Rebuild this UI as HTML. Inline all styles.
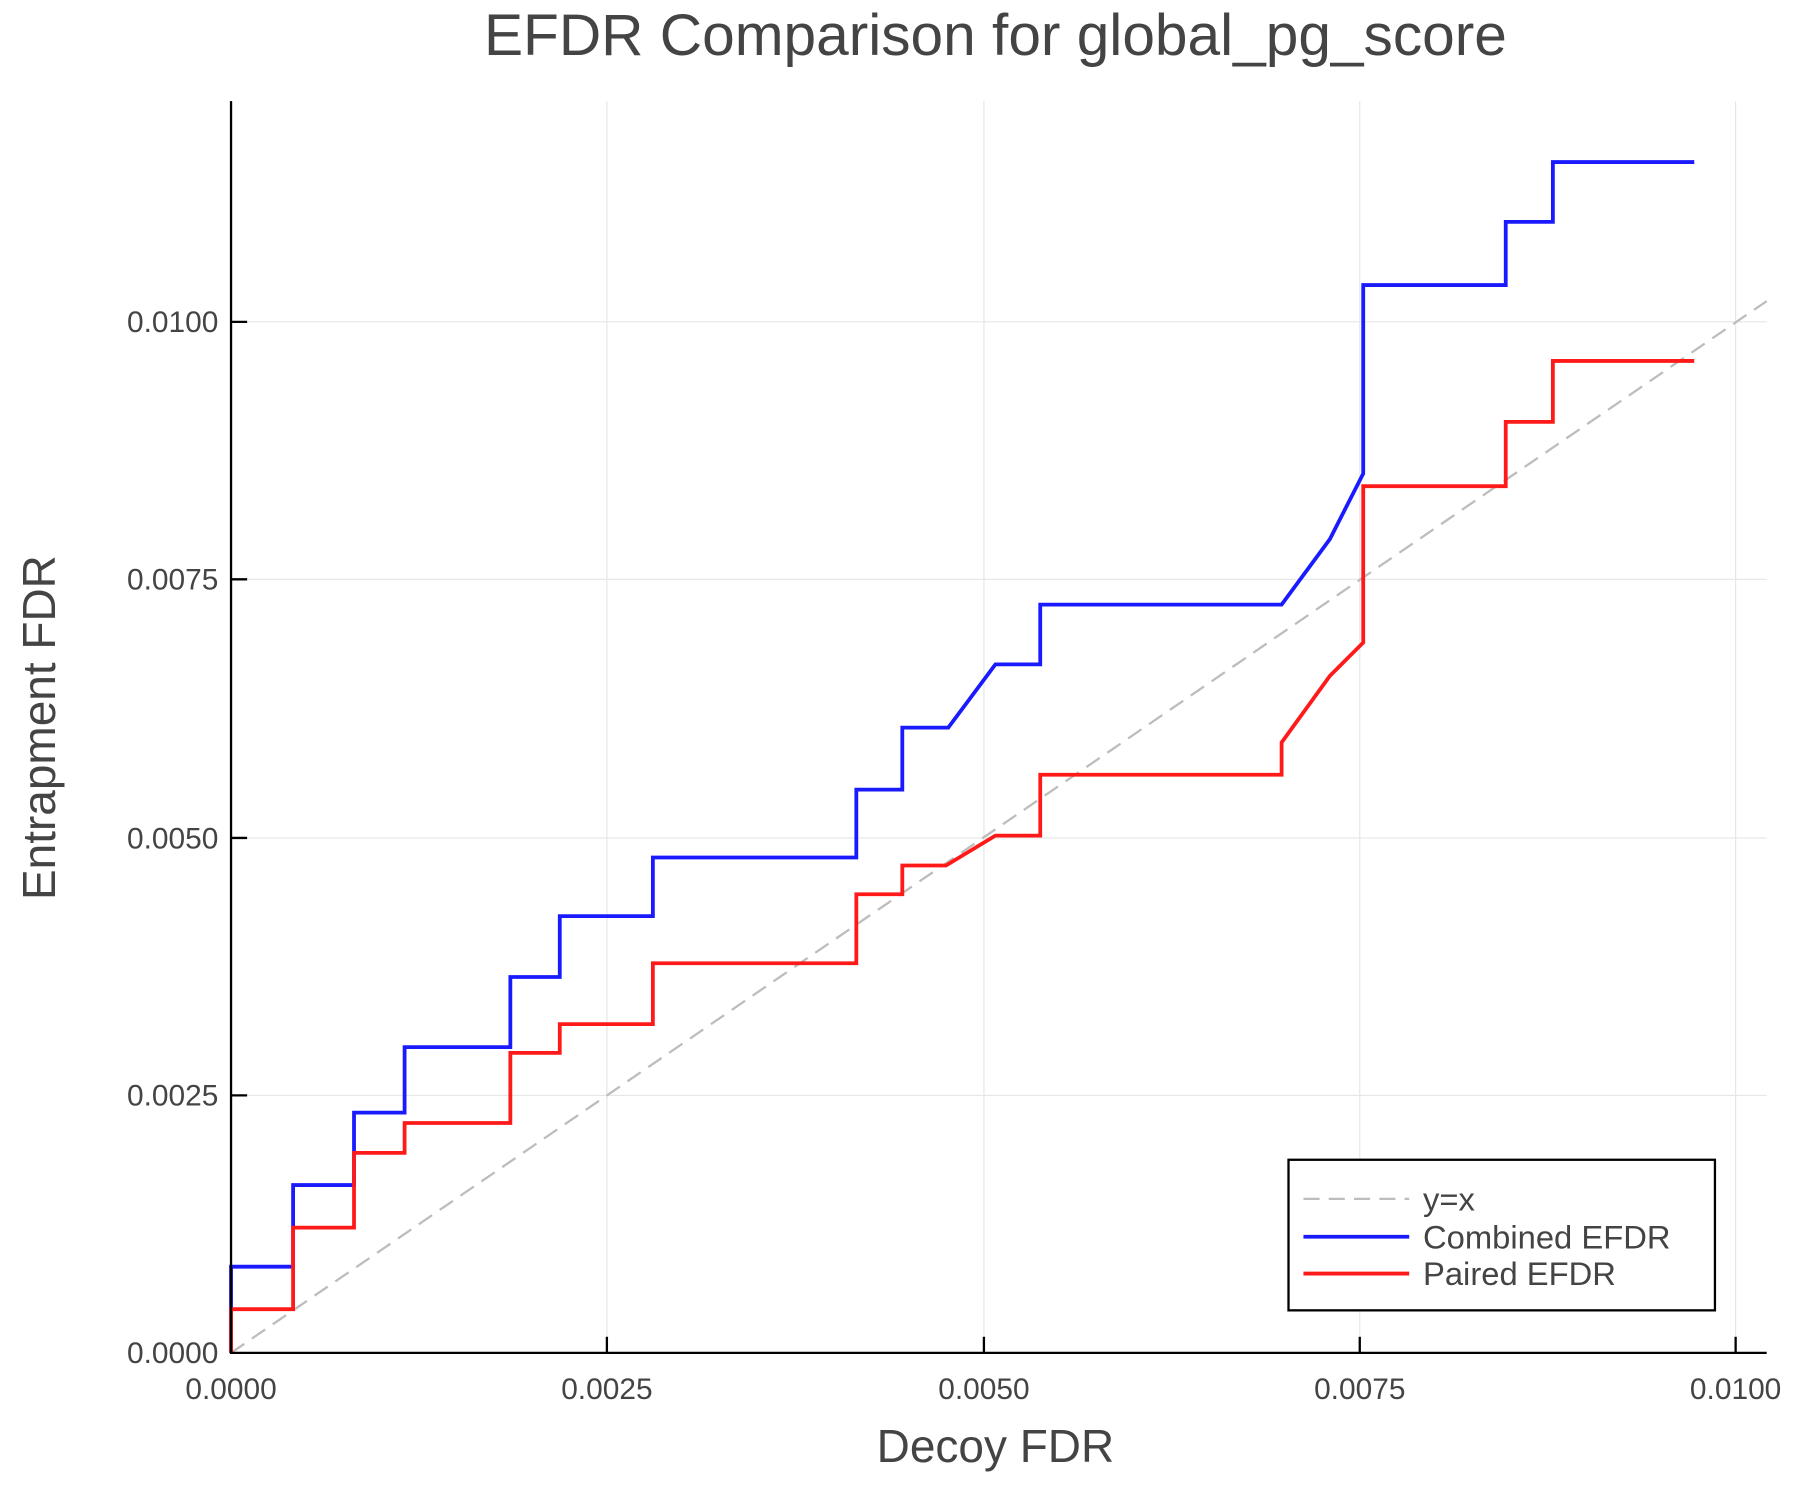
<!DOCTYPE html>
<html><head><style>html,body{margin:0;padding:0;background:#fff}svg{display:block}</style></head>
<body>
<svg width="1800" height="1500" viewBox="0 0 1566 1305" xmlns="http://www.w3.org/2000/svg" font-family="Liberation Sans, sans-serif">
<rect width="1566" height="1305" fill="#fff"/>
<g stroke="#e6e6e6" stroke-width="1">
<line x1="528" y1="88" x2="528" y2="1177"/><line x1="856" y1="88" x2="856" y2="1177"/><line x1="1183" y1="88" x2="1183" y2="1177"/><line x1="1510" y1="88" x2="1510" y2="1177"/>
<line x1="201" y1="953" x2="1537" y2="953"/><line x1="201" y1="729" x2="1537" y2="729"/><line x1="201" y1="504" x2="1537" y2="504"/><line x1="201" y1="280" x2="1537" y2="280"/>
</g>
<line x1="201" y1="1177" x2="1537" y2="262" stroke="#bdbdbd" stroke-width="2" stroke-dasharray="14,8"/>
<polyline fill="none" stroke="#1a1aff" stroke-width="3.3" points="201,1177 201,1102 255,1102 255,1031 308,1031 308,968 352,968 352,911 444,911 444,850 487,850 487,797 568,797 568,746 745,746 745,687 785,687 785,633 825,633 866,578 905,578 905,526 1115,526 1157,469 1186,412 1186,248 1310,248 1310,193 1351,193 1351,141 1474,141"/>
<polyline fill="none" stroke="#ff1a1a" stroke-width="3.3" points="201,1177 201,1139 255,1139 255,1068 308,1068 308,1003 352,1003 352,977 444,977 444,916 487,916 487,891 568,891 568,838 745,838 745,778 785,778 785,753 823,753 866,727 905,727 905,674 1115,674 1115,646 1157,588 1186,559 1186,423 1310,423 1310,367 1351,367 1351,314 1474,314"/>
<g stroke="#000" stroke-width="2">
<line x1="201" y1="88" x2="201" y2="1177"/><line x1="200" y1="1177" x2="1537" y2="1177"/>
<line x1="528" y1="1177" x2="528" y2="1163"/><line x1="856" y1="1177" x2="856" y2="1163"/><line x1="1183" y1="1177" x2="1183" y2="1163"/><line x1="1510" y1="1177" x2="1510" y2="1163"/>
<line x1="201" y1="953" x2="215" y2="953"/><line x1="201" y1="729" x2="215" y2="729"/><line x1="201" y1="504" x2="215" y2="504"/><line x1="201" y1="280" x2="215" y2="280"/>
</g>
<g fill="#444" font-size="26">
<g text-anchor="middle">
<text x="201" y="1217">0.0000</text><text x="528" y="1217">0.0025</text><text x="856" y="1217">0.0050</text><text x="1183" y="1217">0.0075</text><text x="1510" y="1217">0.0100</text>
</g>
<g text-anchor="end">
<text x="190" y="1186">0.0000</text><text x="190" y="962">0.0025</text><text x="190" y="738">0.0050</text><text x="190" y="513">0.0075</text><text x="190" y="289">0.0100</text>
</g>
</g>
<text x="866" y="48" text-anchor="middle" font-size="51" fill="#444">EFDR Comparison for global_pg_score</text>
<text x="866" y="1272" text-anchor="middle" font-size="40" fill="#444">Decoy FDR</text>
<text transform="translate(48,633) rotate(-90)" text-anchor="middle" font-size="40" fill="#444">Entrapment FDR</text>
<rect x="1121" y="1009" width="371" height="131" fill="#fff" stroke="#000" stroke-width="2"/>
<line x1="1134" y1="1043" x2="1226" y2="1043" stroke="#bdbdbd" stroke-width="2" stroke-dasharray="14,8"/>
<line x1="1134" y1="1076" x2="1226" y2="1076" stroke="#1a1aff" stroke-width="3.3"/>
<line x1="1134" y1="1108" x2="1226" y2="1108" stroke="#ff1a1a" stroke-width="3.3"/>
<g fill="#444" font-size="28.5">
<text x="1238" y="1053">y=x</text><text x="1238" y="1086">Combined EFDR</text><text x="1238" y="1118">Paired EFDR</text>
</g>
</svg>
</body></html>
